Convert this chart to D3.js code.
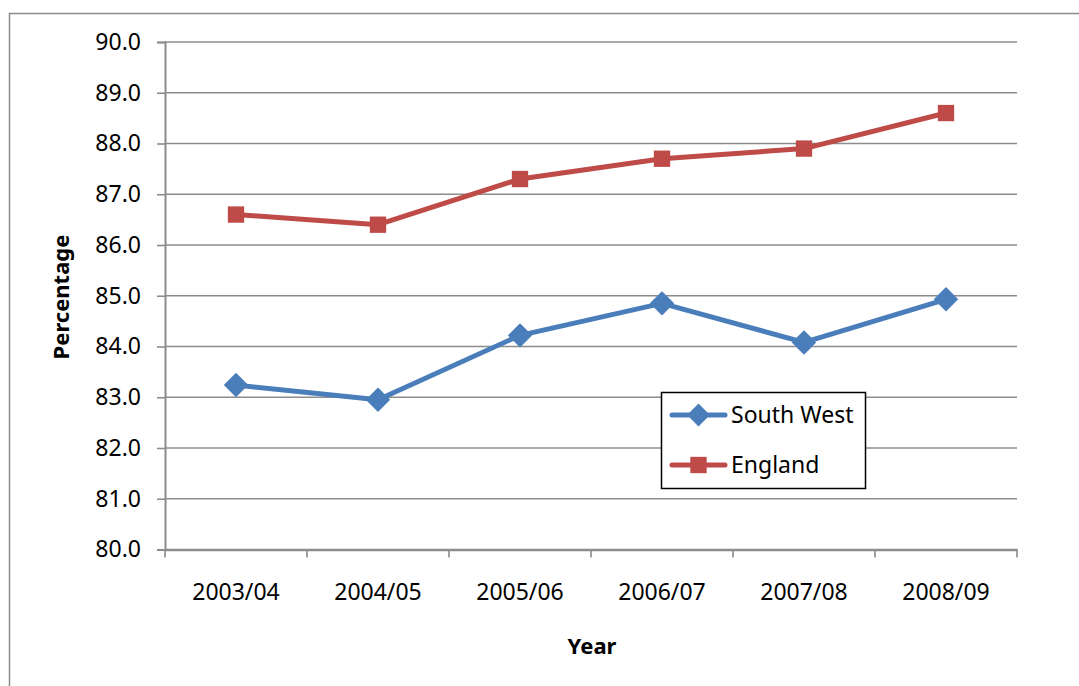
<!DOCTYPE html>
<html>
<head>
<meta charset="utf-8">
<script src="https://cdn.jsdelivr.net/npm/d3@7"></script>
<style>
  html, body { margin: 0; padding: 0; background: #fff; }
  svg { display: block; font-family: "Noto Sans", "DejaVu Sans", sans-serif; }
</style>
</head>
<body>
<svg id="chart" width="1079" height="686"></svg>
<script>
// Academic years on the category axis
const years = ["2003/04", "2004/05", "2005/06", "2006/07", "2007/08", "2008/09"];
// Percentage values per series
const southWest = [83.24, 82.95, 84.22, 84.85, 84.08, 84.93];
const england = [86.6, 86.4, 87.3, 87.7, 87.9, 88.6];
// Value-axis ticks
const yTicks = [80, 81, 82, 83, 84, 85, 86, 87, 88, 89, 90];

const seriesList = [
  { name: "South West", values: southWest, color: "#4A7EBB", symbol: d3.symbolDiamond2 },
  { name: "England", values: england, color: "#BE4B48", symbol: d3.symbolSquare2 }
];

const svg = d3.select("#chart");
const gridColor = "#8c8c8c";
const labelSize = 23;

// Outer chart frame
svg.append("rect")
  .attr("x", 9.5).attr("y", 13.5)
  .attr("width", 1100).attr("height", 700)
  .attr("fill", "none").attr("stroke", "#8c8c8c").attr("stroke-width", 1.5);

const plot = { left: 165, right: 1017, top: 42, bottom: 549.5 };

const x = d3.scaleBand().domain(years).range([plot.left, plot.right]);
const y = d3.scaleLinear().domain([80, 90]).range([plot.bottom, plot.top]);

// Horizontal gridlines
svg.append("g").selectAll("line").data(yTicks.slice(1)).join("line")
  .attr("x1", plot.left).attr("x2", plot.right)
  .attr("y1", d => y(d)).attr("y2", d => y(d))
  .attr("stroke", gridColor).attr("stroke-width", 1.6);

// Value axis
const yAxis = svg.append("g")
  .attr("transform", `translate(${plot.left},0)`)
  .call(d3.axisLeft(y).tickValues(yTicks).tickFormat(d3.format(".1f")).tickSize(8).tickPadding(16));
yAxis.select(".domain").attr("stroke", gridColor).attr("stroke-width", 2);
yAxis.selectAll(".tick line").attr("stroke", gridColor).attr("stroke-width", 1.6);
yAxis.selectAll(".tick text")
  .attr("font-size", labelSize).attr("fill", "#000")
  .attr("font-family", "'Noto Sans', sans-serif");

// Category axis with ticks between categories
const xAxis = svg.append("g")
  .attr("transform", `translate(0,${plot.bottom})`)
  .call(d3.axisBottom(x).tickSize(0).tickPadding(34));
xAxis.select(".domain").attr("stroke", gridColor).attr("stroke-width", 2.5);
xAxis.selectAll(".tick text")
  .attr("font-size", labelSize).attr("fill", "#000")
  .attr("font-family", "'Noto Sans', sans-serif");
const bounds = years.map(d => x(d)).concat([plot.right]);
xAxis.selectAll("line.sep").data(bounds).join("line")
  .attr("class", "sep")
  .attr("x1", d => d).attr("x2", d => d)
  .attr("y1", 0).attr("y2", 8)
  .attr("stroke", gridColor).attr("stroke-width", 1.6);

// Axis titles
svg.append("text")
  .attr("transform", "translate(69,297) rotate(-90)")
  .attr("text-anchor", "middle")
  .attr("font-size", 22).attr("font-weight", "bold")
  .text("Percentage");
svg.append("text")
  .attr("x", 592).attr("y", 654)
  .attr("text-anchor", "middle")
  .attr("font-size", 22).attr("font-weight", "bold")
  .text("Year");

// Series lines and markers
const line = d3.line()
  .x((d, i) => x(years[i]) + x.bandwidth() / 2)
  .y(d => y(d));

seriesList.forEach(s => {
  svg.append("path")
    .datum(s.values)
    .attr("d", line)
    .attr("fill", "none")
    .attr("stroke", s.color)
    .attr("stroke-width", 5)
    .attr("stroke-linejoin", "round");
  const size = s.symbol === d3.symbolSquare2 ? 340 : 380;
  svg.append("g").selectAll("path").data(s.values).join("path")
    .attr("d", d3.symbol().type(s.symbol).size(size))
    .attr("transform", (d, i) => `translate(${x(years[i]) + x.bandwidth() / 2},${y(d)})`)
    .attr("fill", s.color);
});

// Legend
const legend = svg.append("g");
legend.append("rect")
  .attr("x", 661.5).attr("y", 392.5)
  .attr("width", 204).attr("height", 96)
  .attr("fill", "#fff").attr("stroke", "#000").attr("stroke-width", 1.5);
seriesList.forEach((s, i) => {
  const ly = 415 + i * 50;
  legend.append("line")
    .attr("x1", 672).attr("x2", 725).attr("y1", ly).attr("y2", ly)
    .attr("stroke", s.color).attr("stroke-width", 5).attr("stroke-linecap", "round");
  const size = s.symbol === d3.symbolSquare2 ? 340 : 330;
  legend.append("path")
    .attr("d", d3.symbol().type(s.symbol).size(size))
    .attr("transform", `translate(698.5,${ly})`)
    .attr("fill", s.color);
  legend.append("text")
    .attr("x", 731).attr("y", ly).attr("dy", "0.35em")
    .attr("font-size", labelSize)
    .text(s.name);
});
</script>
</body>
</html>
